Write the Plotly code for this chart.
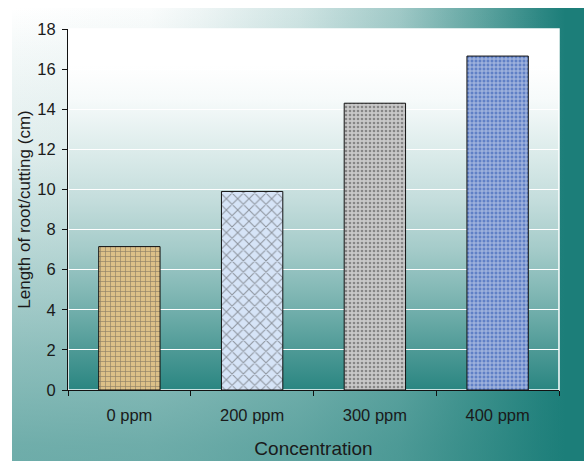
import base64
import plotly.graph_objects as go

# ---- data ----
categories = ["0 ppm", "200 ppm", "300 ppm", "400 ppm"]
root_length = [7.15, 9.9, 14.3, 16.65]
y_ticks = [0, 2, 4, 6, 8, 10, 12, 14, 16, 18]

# ---- styles ----
bar_bg = ["#dcc088", "#d6e4f7", "#c8c8c8", "#6080c6"]
bar_fg = ["#9c7a40", "#f2d6ee", "#7a7a7a", "#b3c8f0"]
bar_shape = ["+", "x", ".", "+"]
bar_size = [5, 8, 4, 4]
bar_solid = [0.25, 0.25, 0.35, 0.45]

W, H = 584, 461
L, R, T, B = 68, 25, 29, 71
TEAL = (28, 126, 121)


def mix(f):
    c = [round(255 - f * (255 - t)) for t in TEAL]
    return "#%02x%02x%02x" % tuple(c)


h_stops = [(0, 0.0), (0.241, 0.02), (0.329, 0.075), (0.503, 0.21), (0.678, 0.42),
           (0.818, 0.70), (0.923, 0.92), (0.967, 1.0), (1, 1.0)]
v_stops = [(0, 0.0), (0.094, 0.05), (0.317, 0.14), (0.540, 0.32), (0.763, 0.50),
           (0.964, 0.63), (1, 0.64)]
p_stops = [(0, 0.0), (0.1, 0.0), (0.197, 0.04), (0.335, 0.15), (0.474, 0.26),
           (0.612, 0.40), (0.751, 0.58), (0.889, 0.78), (1, 0.94)]

teal_hex = "#%02x%02x%02x" % TEAL
hs = "".join(f'<stop offset="{o}" stop-color="{mix(f)}"/>' for o, f in h_stops)
vs = "".join(f'<stop offset="{o}" stop-color="{teal_hex}" stop-opacity="{f}"/>' for o, f in v_stops)
ps = "".join(f'<stop offset="{o}" stop-color="{mix(f)}"/>' for o, f in p_stops)

svg = f'''<svg xmlns="http://www.w3.org/2000/svg" width="{W}" height="{H}" viewBox="0 0 {W} {H}" preserveAspectRatio="none">
<defs>
<linearGradient id="h" x1="0" y1="0" x2="1" y2="0">{hs}</linearGradient>
<linearGradient id="v" x1="0" y1="0" x2="0" y2="1">{vs}</linearGradient>
<linearGradient id="p" x1="0" y1="0" x2="0" y2="1">{ps}</linearGradient>
</defs>
<rect x="0" y="0" width="{W}" height="{H}" fill="#ffffff"/>
<rect x="12" y="8" width="{W-12}" height="{H-8}" fill="url(#h)"/>
<rect x="12" y="8" width="{W-12}" height="{H-8}" fill="url(#v)"/>
<rect x="{L}" y="{T}" width="{W-L-R}" height="{H-T-B}" fill="url(#p)"/>
</svg>'''
src = "data:image/svg+xml;base64," + base64.b64encode(svg.encode()).decode()

pw, ph = W - L - R, H - T - B

fig = go.Figure(go.Bar(
    x=categories, y=root_length, width=0.5,
    marker=dict(
        color=bar_bg, opacity=1,
        line=dict(color="#111111", width=1),
        pattern=dict(shape=bar_shape, fgcolor=bar_fg,
                     size=bar_size, solidity=bar_solid, fillmode="overlay"),
    ),
    hoverinfo="x+y",
))

font = "Liberation Sans, Arial, sans-serif"
fig.update_layout(
    width=W, height=H,
    margin=dict(l=L, r=R, t=T, b=B, pad=0),
    paper_bgcolor="white",
    plot_bgcolor="rgba(0,0,0,0)",
    showlegend=False,
    font=dict(family=font, color="#1a1a1a"),
    images=[dict(source=src, xref="paper", yref="paper",
                 x=-L / pw, y=1 + T / ph, sizex=W / pw, sizey=H / ph,
                 xanchor="left", yanchor="top", sizing="stretch", layer="below")],
    shapes=[dict(type="rect", xref="paper", yref="paper", x0=0, x1=1, y0=0, y1=1,
                 line=dict(color="white", width=1.5), layer="below")],
    xaxis=dict(
        showline=True, linecolor="#111111", linewidth=1,
        ticks="outside", ticklen=5, tickcolor="#111111", tickson="boundaries",
        tickfont=dict(size=16.5, family=font, color="#1a1a1a"),
        ticklabelstandoff=10,
        showgrid=False, automargin=False,
        title=dict(text="Concentration", font=dict(size=19, family=font, color="#1a1a1a"),
                   standoff=18),
    ),
    yaxis=dict(
        range=[0, 18], tickvals=y_ticks,
        showline=True, linecolor="#111111", linewidth=1,
        ticks="outside", ticklen=5, tickcolor="#111111",
        tickfont=dict(size=16.5, family=font, color="#1a1a1a"),
        ticklabelstandoff=3,
        showgrid=True, gridcolor="white", gridwidth=1.3, zeroline=False,
        automargin=False,
        title=dict(text="Length of root/cutting (cm)",
                   font=dict(size=17, family=font, color="#1a1a1a"), standoff=2),
    ),
)

fig.write_html("out.html")
